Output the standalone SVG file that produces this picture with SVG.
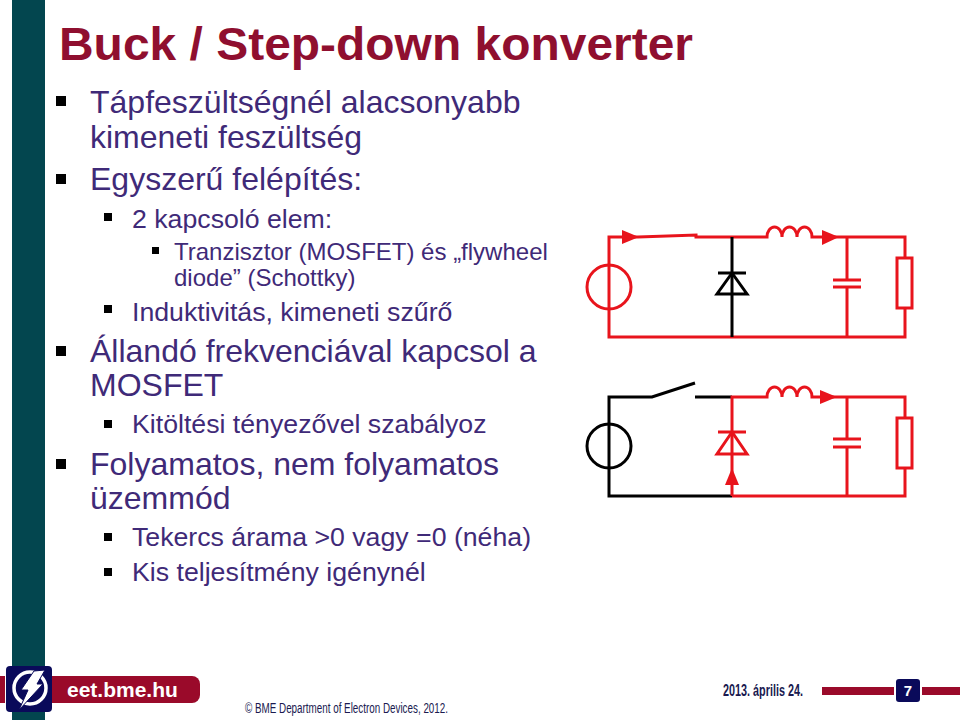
<svg xmlns="http://www.w3.org/2000/svg" width="960" height="720" viewBox="0 0 960 720">
<style>
text{font-family:"Liberation Sans",Arial,sans-serif}
.t{fill:#3f2a78}
.l1{font-size:32px}
.l2{font-size:26.7px}
.l3{font-size:24px}
.w{fill:none;stroke-width:3;stroke-linejoin:miter}
.r{stroke:#e8141c}
.k{stroke:#000}
.ra{fill:#e8141c}
.b{fill:#000}
</style>
<rect width="960" height="720" fill="#fff"/>
<rect x="12" y="0" width="33" height="720" fill="#03464f"/>
<rect x="0" y="676" width="5" height="27" fill="#9a0a2a"/>
<path d="M50 676H192a8 8 0 0 1 8 8V695a8 8 0 0 1-8 8H50Z" fill="#9a0a2a"/>
<g id="logo">
<rect x="6" y="666" width="46" height="46" rx="4" fill="#0a0a5a"/>
<circle cx="30" cy="688" r="16" fill="none" stroke="#fff" stroke-width="3.5"/>
<polygon points="34,671 45,670 37,684 43,684 19,710 28,690 21,690" fill="#fff" stroke="#0a0a5a" stroke-width="1"/>
</g>
<text x="67" y="697" font-size="21" font-weight="bold" fill="#fff">eet.bme.hu</text>
<text x="59" y="60" font-size="47" font-weight="bold" fill="#8f0f2f" textLength="634" lengthAdjust="spacingAndGlyphs">Buck / Step-down konverter</text>

<g id="bullets">
<rect class="b" x="56" y="96" width="10" height="10"/>
<rect class="b" x="56" y="174" width="10" height="10"/>
<rect class="b" x="104" y="213" width="8" height="8"/>
<rect class="b" x="152" y="247" width="7" height="7"/>
<rect class="b" x="104" y="305" width="8" height="8"/>
<rect class="b" x="56" y="346" width="10" height="10"/>
<rect class="b" x="104" y="420" width="8" height="8"/>
<rect class="b" x="56" y="459" width="10" height="10"/>
<rect class="b" x="104" y="533" width="8" height="8"/>
<rect class="b" x="104" y="568" width="8" height="8"/>
</g>
<g id="body" class="t">
<text class="l1" x="90" y="113">Tápfeszültségnél alacsonyabb</text>
<text class="l1" x="90" y="148">kimeneti feszültség</text>
<text class="l1" x="90" y="190">Egyszerű felépítés:</text>
<text class="l2" x="132" y="228">2 kapcsoló elem:</text>
<text class="l3" x="174" y="260">Tranzisztor (MOSFET) és „flywheel</text>
<text class="l3" x="174" y="286">diode” (Schottky)</text>
<text class="l2" x="132" y="321">Induktivitás, kimeneti szűrő</text>
<text class="l1" x="90" y="362">Állandó frekvenciával kapcsol a</text>
<text class="l1" x="90" y="396">MOSFET</text>
<text class="l2" x="132" y="433">Kitöltési tényezővel szabályoz</text>
<text class="l1" x="90" y="475">Folyamatos, nem folyamatos</text>
<text class="l1" x="90" y="509">üzemmód</text>
<text class="l2" x="132" y="546">Tekercs árama &gt;0 vagy =0 (néha)</text>
<text class="l2" x="132" y="581">Kis teljesítmény igénynél</text>
</g>

<g id="circuit1">
<path class="w r" d="M609 265V237H638L696 235V237H767a7.500 10 0 0 1 15 0a7.500 10 0 0 1 15 0a7.500 10 0 0 1 15 0H905V258M905 308V337H609V309M847 237V280M847 287V337"/>
<circle class="w r" cx="609" cy="287" r="22"/>
<path class="w r" d="M609 265V309"/>
<path class="w r" d="M833 280H861M833 287H861"/>
<rect class="w r" x="897" y="258" width="15" height="50"/>
<polygon class="ra" points="622,230 622,244 639,237"/>
<polygon class="ra" points="822,230 822,245 839,237"/>
<path class="w k" d="M732 237V337M718 273H746"/>
<polygon class="w k" points="732,273 717,294 747,294"/>
</g>

<g id="circuit2">
<path class="w k" d="M609 424V397H652L695 383M695 397H732M609 468V496H732"/>
<circle class="w k" cx="609" cy="446" r="22"/>
<path class="w k" d="M609 424V468"/>
<path class="w r" d="M732 496V397H767a7.500 10 0 0 1 15 0a7.500 10 0 0 1 15 0a7.500 10 0 0 1 15 0H905V418M905 468V496H732M847 397V439M847 447V496"/>
<path class="w r" d="M833 439H861M833 447H861M718 432H746"/>
<rect class="w r" x="897" y="418" width="15" height="50"/>
<polygon class="w r" points="732,432 717,454 747,454"/>
<polygon class="ra" points="820,390 820,404 837,397"/>
<polygon class="ra" points="732,468 725,485 739,485"/>
</g>

<g id="footer">
<text x="245" y="713" font-size="14" fill="#1a1a50" textLength="203" lengthAdjust="spacingAndGlyphs">© BME Department of Electron Devices, 2012.</text>
<text x="723" y="696" font-size="16" font-weight="bold" fill="#1a1a50" textLength="80" lengthAdjust="spacingAndGlyphs">2013. április 24.</text>
<rect x="822" y="687" width="72" height="8" fill="#9a0a2a"/>
<rect x="922" y="687" width="38" height="8" fill="#9a0a2a"/>
<rect x="896" y="679" width="24" height="23" rx="3" fill="#0a0a5a"/>
<text x="908" y="696" font-size="15" font-weight="bold" fill="#fff" text-anchor="middle">7</text>
</g>
</svg>
